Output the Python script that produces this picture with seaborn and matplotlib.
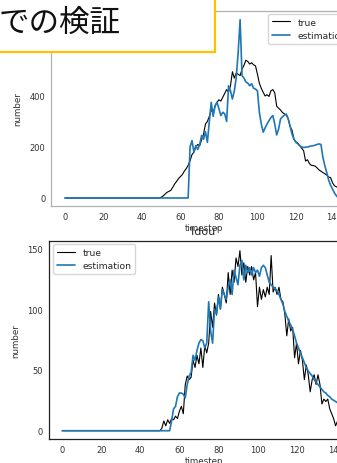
import numpy as np
import pandas as pd
import matplotlib
matplotlib.use("Agg")
import matplotlib.pyplot as plt
import seaborn as sns
from matplotlib.patches import Rectangle

# ---------------- data ----------------
# leading zero segment (timestep 0 .. 47) then one value per timestep from 48 on
lead_t = [0, 47]
lead_v = [0, 0]

top_true = [0, 0, 3, 8, 15, 22, 26, 30, 42, 55, 65, 76, 84, 92, 105, 115, 128, 146,
            170, 180, 200, 210, 205, 228, 250, 290, 300, 320, 345, 335, 360, 375, 385,
            380, 395, 410, 425, 415, 440, 495, 470, 490, 485, 480, 505, 520, 540, 535,
            525, 530, 522, 518, 485, 450, 430, 414, 400, 405, 398, 420, 425, 412, 360,
            352, 345, 335, 330, 325, 310, 280, 265, 230, 220, 215, 205, 195, 185, 145,
            150, 135, 128, 127, 125, 118, 110, 105, 100, 95, 90, 82, 80, 60, 48, 44, 40,
            38, 35, 30]
top_est = [0, 0, 0, 0, 0, 0, 0, 0, 0, 0, 0, 0, 0, 0, 0, 0, 0, 200, 225, 180, 205, 190,
           210, 245, 230, 260, 218, 300, 375, 320, 362, 375, 350, 323, 336, 330, 300,
           440, 420, 388, 420, 473, 571, 699, 480, 470, 455, 450, 440, 448, 430, 427,
           420, 336, 290, 258, 275, 290, 303, 315, 323, 290, 247, 270, 310, 318, 325,
           329, 310, 280, 250, 230, 218, 212, 205, 200, 198, 199, 200, 202, 204, 205,
           207, 210, 212, 210, 160, 127, 100, 70, 50, 35, 20, 9, 0, 0, 0, 0]

bot_true = [0, 0, 0, 2, 8, 4, 9, 6, 10, 9, 12, 10, 16, 20, 14, 38, 45, 42, 44, 58, 52,
            62, 55, 68, 52, 70, 64, 72, 98, 85, 105, 95, 112, 100, 118, 112, 105, 130,
            112, 132, 122, 142, 135, 148, 128, 138, 122, 135, 128, 135, 124, 130, 102,
            118, 108, 116, 110, 118, 112, 144, 114, 118, 112, 118, 108, 106, 96, 78, 92,
            82, 85, 60, 72, 55, 66, 58, 42, 54, 46, 32, 42, 46, 38, 46, 38, 22, 26, 24,
            26, 18, 14, 10, 4, 8, 2]
bot_est = [0, 0, 0, 0, 0, 0, 0, 0, 8, 18, 20, 28, 31, 31, 30, 27, 38, 45, 48, 62, 58,
           66, 72, 75, 74, 68, 72, 106, 82, 72, 100, 96, 110, 100, 116, 112, 108, 118,
           124, 112, 132, 126, 120, 136, 140, 124, 136, 130, 134, 128, 134, 130, 132,
           127, 134, 136, 134, 128, 122, 120, 118, 117, 115, 112, 108, 104, 98, 94, 90,
           87, 83, 78, 72, 68, 64, 60, 56, 52, 49, 47, 45, 42, 40, 38, 36, 34, 32, 31,
           29, 28, 26, 25, 24, 23, 22]

top_title = "'kan'"
bot_title = "'ldou'"
callout_text = "での検証"


def series(vals):
    t = lead_t + list(range(48, 48 + len(vals)))
    v = lead_v + list(vals)
    return pd.DataFrame({"timestep": t, "number": v})


# ---------------- style ----------------
sns.set_style("white")
plt.rcParams["font.family"] = ["DejaVu Sans"]

W, H = 337, 464
fig = plt.figure(figsize=(W / 100, H / 100), dpi=100)


def px_axes(left, top, right, bottom):
    return fig.add_axes([left / W, (H - bottom) / H, (right - left) / W, (bottom - top) / H])


ax1 = px_axes(51, 12, 358, 207)
ax2 = px_axes(48.6, 241.7, 359.6, 440)

BLUE = "#1f77b4"

sns.lineplot(data=series(top_true), x="timestep", y="number", ax=ax1,
             color="black", lw=0.8, label="true")
sns.lineplot(data=series(top_est), x="timestep", y="number", ax=ax1,
             color=BLUE, lw=1.2, label="estimation")

sns.lineplot(data=series(bot_true), x="timestep", y="number", ax=ax2,
             color="black", lw=0.8, label="true")
sns.lineplot(data=series(bot_est), x="timestep", y="number", ax=ax2,
             color=BLUE, lw=1.2, label="estimation")

ax1.set_xlim(-7.25, 152.25)
ax1.set_ylim(-31.4, 733)
ax2.set_xlim(-7.0, 152.3)
ax2.set_ylim(-6.8, 156.2)

for ax, spcol in ((ax1, "#b0b0b0"), (ax2, "#222222")):
    ax.set_xticks([0, 20, 40, 60, 80, 100, 120, 140])
    ax.tick_params(direction="in", length=3, width=0.6, labelsize=6,
                   labelcolor="#333333", color=spcol, pad=4)
    for s in ax.spines.values():
        s.set_color(spcol)
        s.set_linewidth(0.9)
    ax.set_xlabel("timestep", fontsize=6.3, color="#333333", labelpad=1.5)
    ax.set_ylabel("number", fontsize=6.3, color="#333333", labelpad=5)

ax1.set_yticks([0, 200, 400, 600])
ax2.set_yticks([0, 50, 100, 150])

ax1.set_title(top_title, fontsize=8, pad=5)
ax2.set_title(bot_title, fontsize=8, pad=5)

ax1.legend(loc="upper right", bbox_to_anchor=(0.974, 0.985), borderaxespad=0,
           fontsize=6.6, frameon=True, edgecolor="#cccccc", handlelength=2)
ax2.legend(loc="upper left", bbox_to_anchor=(0.014, 0.983), borderaxespad=0,
           fontsize=6.6, frameon=True, edgecolor="#cccccc", handlelength=2)

# callout box overlaying the top-left corner
fig.add_artist(Rectangle((-10 / W, (H - 53) / H), 225 / W, 70 / H,
                         transform=fig.transFigure, facecolor="white",
                         edgecolor="#FFC000", lw=1.6, zorder=10))
fig.text(-1 / W, 1 - 23 / H, callout_text, fontsize=22, va="center", ha="left",
         family=["Noto Sans CJK JP", "DejaVu Sans"], color="#111111", zorder=11)

fig.savefig("out.png", dpi=100)
